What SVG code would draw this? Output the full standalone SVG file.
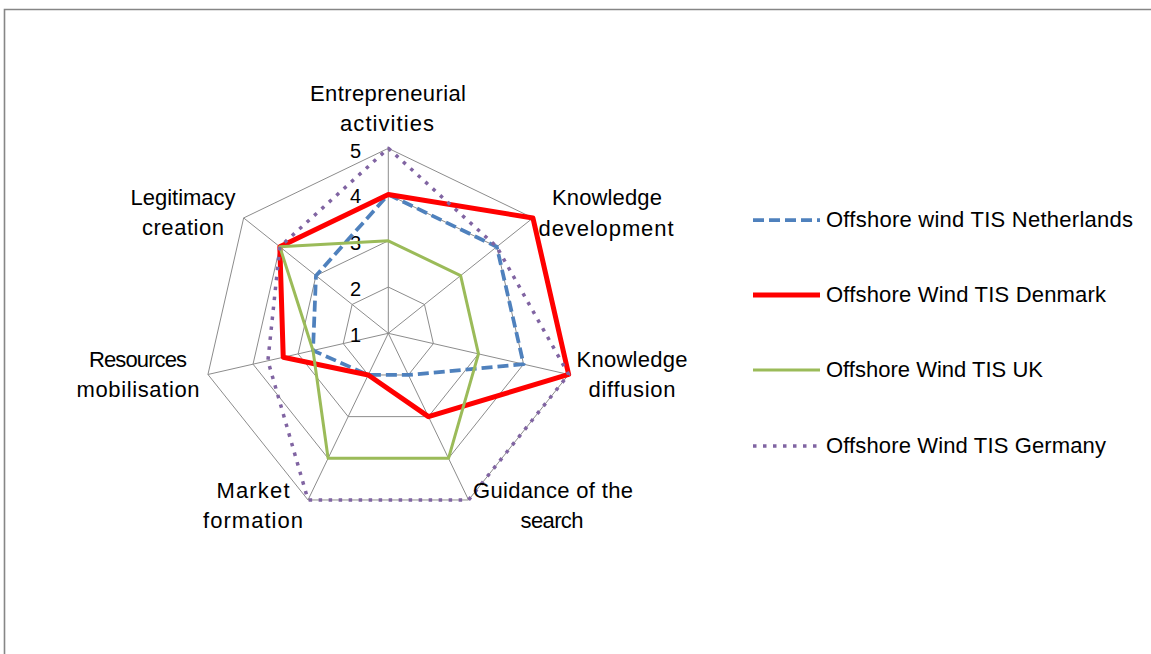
<svg xmlns="http://www.w3.org/2000/svg" width="1151" height="654" viewBox="0 0 1151 654">
<style>
  text { font-family: "Liberation Sans", Arial, sans-serif; font-size: 22px; fill: #000; }
  .lbl { text-anchor: middle; }
  .tick { text-anchor: end; font-size: 20px; }
  .grid { fill: none; stroke: #8c8c8c; stroke-width: 1; }
  .s { fill: none; stroke-linejoin: round; }
  .nl { stroke: #4F81BD; stroke-width: 3.75; stroke-dasharray: 11 5; }
  .dk { stroke: #FF0000; stroke-width: 5; }
  .uk { stroke: #9BBB59; stroke-width: 3; }
  .de { stroke: #8064A2; stroke-width: 3.5; stroke-dasharray: 3.5 6.5; }
</style>
<rect width="1151" height="654" fill="#fff"/>
<path d="M4.5,654 V9.5 H1151" fill="none" stroke="#868686" stroke-width="1.6"/>

<g id="grid">
  <polygon class="grid" points="388.3,148.3 532.94,217.95 568.66,374.47 468.57,499.98 308.03,499.98 207.94,374.47 243.66,217.95"/>
  <polygon class="grid" points="388.3,194.55 496.78,246.79 523.57,364.17 448.5,458.31 328.1,458.31 253.03,364.17 279.82,246.79"/>
  <polygon class="grid" points="388.3,240.8 460.62,275.63 478.48,353.88 428.43,416.64 348.17,416.64 298.12,353.88 315.98,275.63"/>
  <polygon class="grid" points="388.3,287.05 424.46,304.46 433.39,343.59 408.37,374.97 368.23,374.97 343.21,343.59 352.14,304.46"/>
  <path class="grid" d="M388.3,333.3 L388.3,148.3 M388.3,333.3 L532.94,217.95 M388.3,333.3 L568.66,374.47 M388.3,333.3 L468.57,499.98 M388.3,333.3 L308.03,499.98 M388.3,333.3 L207.94,374.47 M388.3,333.3 L243.66,217.95"/>
</g>

<g id="ticks">
  <text class="tick" x="361" y="158">5</text>
  <text class="tick" x="361" y="203">4</text>
  <text class="tick" x="361" y="250">3</text>
  <text class="tick" x="361" y="296">2</text>
  <text class="tick" x="361" y="342">1</text>
</g>

<g id="series">
  <polygon id="netherlands" class="s nl" points="388.3,194.55 496.78,246.79 523.57,364.17 408.37,374.97 368.23,374.97 313,350.49 315.98,275.63"/>
  <polygon id="denmark" class="s dk" points="388.3,194.55 532.94,217.95 568.66,374.47 428.43,416.64 368.23,374.97 283.24,357.28 279.82,246.79"/>
  <polygon id="uk" class="s uk" points="388.3,240.8 460.62,275.63 478.48,353.88 448.5,458.31 328.1,458.31 313,350.49 279.82,246.79"/>
  <polygon id="germany" class="s de" points="388.3,148.3 496.78,246.79 568.66,374.47 468.57,499.98 308.03,499.98 267.91,360.78 279.82,246.79"/>
</g>

<g id="axis-labels">
  <g id="ax-entrepreneurial"><text class="lbl" x="388" y="101" textLength="156">Entrepreneurial</text><text class="lbl" x="387" y="131" textLength="94">activities</text></g>
  <g id="ax-kdev"><text class="lbl" x="607" y="205" textLength="110">Knowledge</text><text class="lbl" x="606" y="236" textLength="135">development</text></g>
  <g id="ax-kdif"><text class="lbl" x="632" y="367" textLength="111">Knowledge</text><text class="lbl" x="632" y="397" textLength="87">diffusion</text></g>
  <g id="ax-guidance"><text class="lbl" x="553" y="498" textLength="160">Guidance of the</text><text class="lbl" x="552" y="528" textLength="63">search</text></g>
  <g id="ax-market"><text class="lbl" x="253" y="498" textLength="73">Market</text><text class="lbl" x="253" y="528" textLength="100">formation</text></g>
  <g id="ax-resources"><text class="lbl" x="138" y="367" textLength="98">Resources</text><text class="lbl" x="138" y="397" textLength="123">mobilisation</text></g>
  <g id="ax-legitimacy"><text class="lbl" x="183" y="205" textLength="105">Legitimacy</text><text class="lbl" x="183" y="235" textLength="82">creation</text></g>
</g>

<g id="legend">
  <g id="leg-nl"><line class="s nl" x1="753" y1="220" x2="820" y2="220"/><text x="826" y="227" textLength="307">Offshore wind TIS Netherlands</text></g>
  <g id="leg-dk"><line class="s dk" x1="753" y1="295" x2="820" y2="295"/><text x="826" y="302" textLength="280">Offshore Wind TIS Denmark</text></g>
  <g id="leg-uk"><line class="s uk" x1="753" y1="370" x2="820" y2="370"/><text x="826" y="377" textLength="217">Offshore Wind TIS UK</text></g>
  <g id="leg-de"><line class="s de" x1="753" y1="446" x2="820" y2="446"/><text x="826" y="453" textLength="280">Offshore Wind TIS Germany</text></g>
</g>
</svg>
